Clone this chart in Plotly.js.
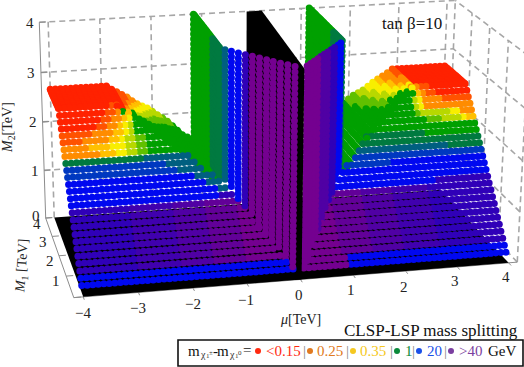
<!DOCTYPE html>
<html><head><meta charset="utf-8">
<script src="https://cdn.plot.ly/plotly-3.0.1.min.js"></script>
<style>html,body{margin:0;padding:0;background:#fff;overflow:hidden}</style></head>
<body><div id="chart" style="width:524px;height:367px"></div>
<script>
// ---------- data ----------
const palette = ['#ff2200','#ff5200','#ff8c00','#ffc000','#f8ee00','#b8d800','#60c000','#00a000','#007a40','#005f80','#0038c0','#0008f0','#3000b8','#5000a4','#740090','#4000ae','#620098'];
const absMu = [0.1,0.2,0.3,0.4,0.5,0.6,0.7,0.8,0.9,1.0,1.1,1.2,1.3,1.4,1.5,1.6,1.7,1.8,1.9,2.0,2.1,2.2,2.3,2.4,2.5,2.6,2.7,2.8,2.9,3.0,3.1,3.2,3.3,3.4,3.5,3.6,3.7,3.8,3.9,4.0];

// bino-wino rows: M1 close to M2
const rowM2 = [0.15,0.25,0.35,0.45,0.55,0.65,0.75,0.85,0.95,1.05,1.15,1.25,1.35,1.45,1.55,1.65,1.75,1.85,1.95,2.05,2.15,2.25,2.35,2.45,2.55,2.65];
const rowM1 = [0.16,0.26,0.36,0.47,0.57,0.68,0.78,0.88,0.99,1.09,1.2,1.3,1.4,1.51,1.61,1.72,1.82,1.92,2.03,2.13,2.24,2.34,2.44,2.55,2.65,2.76];
const rowInner = [0.1,0.2,0.3,0.4,0.4,0.5,0.6,0.7,0.7,0.8,0.9,1.0,1.1,1.2,1.3,1.5,1.6,1.7,1.8,2.0,2.1,2.3,2.5,2.6,2.8,2.9];
const lowL = [[12,3.0],[15,2.2],[13,1.6],[16,1.0],[14,0]];
const lowR = [[12,2.8],[15,2.1],[13,1.5],[16,0.9],[14,0]];
const rowRunsL = [[[11,0]],[[11,0]],lowL,lowL,lowL,lowL,lowL,lowL,lowL,lowL,lowL,
 [[11,1.3],[12,0]],[[11,1.3],[9,0]],[[11,1.5],[9,0]],[[11,1.7],[9,0]],[[10,2],[9,0]],[[10,2.2],[9,0]],[[8,2.6],[9,0]],
 [[2,3.4],[3,3.1],[4,2.9],[5,2.7],[6,2.5],[7,0]],[[2,3.6],[3,3.2],[4,2.9],[5,2.7],[6,2.45],[7,0]],
 [[1,3.7],[2,3.2],[3,3],[4,2.85],[5,2.65],[6,2.5],[7,0]],[[1,3.5],[2,3.1],[3,2.9],[4,2.8],[5,2.65],[7,0]],
 [[0,3.4],[1,3.2],[2,3],[3,2.85],[4,2.75],[5,2.65],[7,0]],[[0,3.3],[1,3.1],[2,2.9],[3,2.8],[4,2.7],[7,0]],
 [[0,3.2],[1,3],[2,2.9],[7,0]],[[0,3.1],[1,2.9],[2,0]]];
const rowRunsR = [[[11,1],[14,0]],[[11,1],[14,0]],lowR,lowR,lowR,lowR,lowR,lowR,lowR,lowR,lowR,
 [[12,3],[11,0]],[[11,0]],[[11,0]],[[11,2.2],[10,0]],[[10,0]],[[8,3.4],[9,0]],[[8,0]],[[7,3],[8,0]],[[7,0]],
 [[3,3.9],[4,3.75],[5,3.4],[6,3.1],[7,0]],[[2,3.8],[4,3.6],[5,3],[6,2.9],[7,0]],[[2,3.05],[4,2.95],[5,2.85],[7,0]],
 [[1,3.5],[2,3.1],[4,3],[5,2.9],[7,0]],[[0,3.4],[1,3.2],[2,3.05],[3,2.95],[7,0]],[[0,3.3],[1,3.1],[2,0]]];

// wino-higgsino band: M2 fixed by |mu|, M1 from the rows back to 4
const bandMu = [1.2,1.3,1.4,1.5,1.6,1.7,1.8,1.9,2.0,2.1,2.2,2.3,2.4,2.5,2.6,2.7,2.8,2.9];
const bandM2 = [1.45,1.5,1.55,1.65,1.75,1.85,1.93,2.0,2.08,2.15,2.2,2.25,2.32,2.4,2.46,2.52,2.58,2.65];
const G=[[7,0]];
const bandRunsL = [G,G,G,G,G,[[6,3.6],[7,0]],[[6,3.4],[7,0]],[[5,3.7],[6,3.3],[7,0]],[[5,3.5],[6,3.1],[7,0]],[[4,3.8],[5,3.4],[6,2.9],[7,0]],[[4,3.6],[5,3.2],[6,2.8],[7,0]],[[3,3.8],[4,3.4],[5,3],[6,2.8],[7,0]],[[2,3.8],[3,3.5],[4,3.1],[5,2.8],[7,0]],[[2,3.5],[3,3.2],[4,2.9],[5,2.7],[7,0]],[[1,3.5],[2,3.2],[3,2.9],[7,0]],[[1,3],[2,2.8],[3,0]],[[0,0]],[[0,0]]];
const bandRunsR = [G,G,G,G,G,G,G,G,[[6,3.6],[7,0]],[[6,3.2],[7,0]],[[5,3.7],[6,3],[7,0]],[[5,3.4],[6,2.8],[7,0]],[[4,3.7],[5,3.1],[6,2.7],[7,0]],[[4,3.3],[5,2.9],[7,0]],[[3,3.6],[4,3],[5,2.8],[7,0]],[[2,3.6],[3,3.2],[4,2.9],[7,0]],[[2,3.2],[3,3],[4,2.8],[7,0]],[[1,3.5],[2,3],[4,0]]];
const backM1 = [1.6,1.7,1.8,1.9,2.0,2.1,2.2,2.3,2.4,2.5,2.6,2.7,2.8,2.9,3.0,3.1,3.2,3.3,3.4,3.5,3.6,3.7,3.8,3.9,4.0];

// wino plateau
const capM2 = 2.65;
const capMu = [3.0,3.1,3.2,3.3,3.4,3.5,3.6,3.7,3.8,3.9,4.0];
const capCode = [0,0,0,0,0,0,0,0,0,0,0];

// higgsino wall at fixed |mu|, M2 up to 4
const wallMu = 1.16;
const wallM2 = [1.5,1.6,1.7,1.8,1.9,2.0,2.1,2.2,2.3,2.4,2.5,2.6,2.7,2.8,2.9,3.0,3.1,3.2,3.3,3.4,3.5,3.6,3.7,3.8,3.9,4.0];
const wallRuns = [[7,2.3],[8,0]];

// bino-higgsino columns
const colM1 = [0.15,0.28,0.41,0.54,0.67,0.8,0.93,1.06,1.19,1.32,1.45];
const colMu = [0.11,0.21,0.31,0.41,0.5,0.6,0.7,0.8,0.9,1.0,1.09];
const colCodeL = [14,14,14,14,14,14,14,12,11,11,9];
const colCodeR = [14,14,14,14,13,13,13,12,12,11,11];
const colM2 = [0.2,0.3,0.4,0.5,0.6,0.7,0.8,0.9,1.0,1.1,1.2,1.3,1.4,1.5,1.6,1.7,1.8,1.9,2.0,2.1,2.2,2.3,2.4,2.5,2.6,2.7,2.8,2.9,3.0,3.1,3.2,3.3,3.4,3.5,3.6,3.7,3.8,3.9,4.0];

const muTicks = [-4,-3,-2,-1,0,1,2,3,4];
const m1Ticks = [0,1,2,3,4];
const m2Ticks = [0,1,2,3,4];

// ---------- view of the box: reference marks fitted to a projective camera ----------
const anchors = [[-4,0,0,82,296],[4,0,0,507,264],[-4,4,0,55,216],[4,4,0,441,190],[-4,4,4,48,23],[4,4,4,447,0],[0,4,4,252,12],[0,0,4,305,68],[0,0,0,302,280],[-4,4,2,50,122],[4.17,4,4,455,0],[4.17,2,4,489,26]];
function fit(){
  const A=[],b=[];
  anchors.forEach(([X,Y,Z,u,v])=>{
    A.push([1,X,Y,Z,0,0,0,0,-u*X,-u*Y,-u*Z]);b.push(u);
    A.push([0,0,0,0,1,X,Y,Z,-v*X,-v*Y,-v*Z]);b.push(v);
  });
  const n=11,M=[];
  for(let i=0;i<n;i++){M.push(new Array(n+1).fill(0));
    for(let j=0;j<n;j++)for(let k=0;k<A.length;k++)M[i][j]+=A[k][i]*A[k][j];
    for(let k=0;k<A.length;k++)M[i][n]+=A[k][i]*b[k];}
  for(let i=0;i<n;i++){let p=i;for(let r=i+1;r<n;r++)if(Math.abs(M[r][i])>Math.abs(M[p][i]))p=r;
    [M[i],M[p]]=[M[p],M[i]];
    for(let r=0;r<n;r++)if(r!==i){const f=M[r][i]/M[i][i];for(let c=i;c<=n;c++)M[r][c]-=f*M[i][c];}}
  return M.map((row,i)=>row[n]/row[i]);
}
const P=fit();
function wOf(a,b,c){return 1+P[8]*a+P[9]*b+P[10]*c;}
function px(a,b,c){return (P[0]+P[1]*a+P[2]*b+P[3]*c)/wOf(a,b,c);}
function py(a,b,c){return (P[4]+P[5]*a+P[6]*b+P[7]*c)/wOf(a,b,c);}

function code(runs,v){for(const [c,lim] of runs){if(v>=lim-1e-9)return c;}return runs[runs.length-1][0];}

// ---------- assemble points ----------
function side(sign){
  const pts=[];
  const rr=sign<0?rowRunsL:rowRunsR, br=sign<0?bandRunsL:bandRunsR, cc=sign<0?colCodeL:colCodeR;
  rowM2.forEach((m2,i)=>absMu.forEach(m=>{if(m>=rowInner[i]-1e-9)pts.push([sign*m,rowM1[i],m2,code(rr[i],m)]);}));
  bandMu.forEach((m,i)=>backM1.forEach(a=>{if(a>bandM2[i]+0.05)pts.push([sign*m,a,bandM2[i],code(br[i],a)]);}));
  capMu.forEach((m,i)=>backM1.forEach(a=>{if(a>=2.8)pts.push([sign*m,a,capM2,capCode[i]]);}));
  backM1.forEach(a=>wallM2.forEach(z=>pts.push([sign*wallMu,a,z,code(wallRuns,a)])));
  colM1.forEach((a,i)=>colM2.forEach(z=>{if(z>=a)pts.push([sign*colMu[i],a,z,cc[i]]);}));
  pts.sort((p,q)=>wOf(q[0],q[1],q[2])-wOf(p[0],p[1],p[2]));
  return pts;
}
function markerTrace(pts,size){
  return {type:'scatter',mode:'markers',hoverinfo:'skip',
    x:pts.map(p=>px(p[0],p[1],p[2])),y:pts.map(p=>py(p[0],p[1],p[2])),
    marker:{size:size,color:pts.map(p=>palette[p[3]]),line:{width:0}}};
}
function lineTrace(segs,color,width,dash){
  const x=[],y=[];
  segs.forEach(s=>{x.push(px(...s[0]),px(...s[1]),null);y.push(py(...s[0]),py(...s[1]),null);});
  return {type:'scatter',mode:'lines',hoverinfo:'skip',x,y,line:{color,width,dash:dash||'solid'}};
}
function polyTrace(c){
  return {type:'scatter',mode:'lines',hoverinfo:'skip',fill:'toself',fillcolor:'#000',line:{width:0,color:'#000'},
    x:c.map(p=>px(...p)).concat(px(...c[0])),y:c.map(p=>py(...p)).concat(py(...c[0]))};
}

const E=4.17;
const dashed=[];
muTicks.forEach(m=>dashed.push([[m,4,0],[m,4,4]]));
m2Ticks.slice(1).forEach(z=>dashed.push([[-E,4,z],[E,4,z]]));
m1Ticks.forEach(a=>dashed.push([[E,a,0],[E,a,4]]));
m2Ticks.slice(1).forEach(z=>dashed.push([[E,0,z],[E,4,z]]));
dashed.push([[E,0,0],[E,4,0]]);

const solid=[[[-E,4,0],[-E,4,4]],[[-E,4,0],[-E,0,0]],[[-E,0,0],[E,0,0]]];
muTicks.forEach(m=>solid.push([[m,0,0],[m,-0.13,0]]));
m1Ticks.forEach(a=>solid.push([[-E,a,0],[-E+0.13,a,0]]));
m2Ticks.forEach(z=>solid.push([[-E,4,z],[-E+0.13,4,z]]));

const legendDots={x:[258,310,353,397,419,451],y:[351,351,351,351,351,351],color:['#ff2a10','#e07a20','#f5c820','#0a8a3a','#1a50e8','#7b3fa0']};

const traces=[
  lineTrace(dashed,'#a6a6a6',1.6,'6px,4px'),
  lineTrace(solid,'#8c8c8c',1),
  polyTrace([[-4,0,0],[4,0,0],[4,4,0],[-4,4,0]]),
  markerTrace(side(1),7),
  polyTrace([[-0.1,0,0],[-0.1,4,0],[-0.1,4,4],[0.2,4,4],[0.02,0,4],[0.02,0,0]]),
  markerTrace(side(-1),7),
  {type:'scatter',mode:'markers',hoverinfo:'skip',x:legendDots.x,y:legendDots.y,marker:{size:6,color:legendDots.color}}
];

// ---------- text ----------
const serif='Liberation Serif';
function T(x,y,text,size,color,anchor,angle){
  return {x,y,xref:'x',yref:'y',text,showarrow:false,xanchor:anchor||'center',yanchor:'middle',
    font:{family:serif,size:size||14,color:color||'#222'},textangle:angle||0};
}
const muLab=[[83,313],[138,308],[193,304],[246,300],[299,295],[351,290],[404,287],[455,281],[506,277]];
const ann=[];
muTicks.forEach((m,i)=>ann.push(T(muLab[i][0],muLab[i][1],String(m).replace('-','\u2212'),15)));
[[56,281,'1'],[50,261,'2'],[43,242,'3'],[37,224,'4']].forEach(a=>ann.push(T(a[0],a[1],a[2],15)));
[[36,216,'0'],[35,171,'1'],[33,122,'2'],[31,73,'3'],[30,23,'4']].forEach(a=>ann.push(T(a[0],a[1],a[2],15)));
ann.push(T(300,319,'<i>\u03bc</i>[TeV]',14));
ann.push(T(22,266,'<i>M</i><sub>1</sub> [TeV]',14,'#222','center',-86));
ann.push(T(8,128,'<i>M</i><sub>2</sub>[TeV]',14,'#222','center',-90));
ann.push(T(412,23,'tan \u03b2=10',17,'#111'));
ann.push(T(520,330,'CLSP-LSP mass splitting',17,'#111','right'));
ann.push(T(186,351,'m',15,'#111','left'));
ann.push(T(198,354,'\u03c7',10,'#333','left'));
ann.push(T(204,356,'1',7,'#333','left'));
ann.push(T(207,353,'\u00b1',7,'#333','left'));
ann.push(T(211,351,'-',15,'#111','left'));
ann.push(T(215,351,'m',15,'#111','left'));
ann.push(T(227,354,'\u03c7',10,'#333','left'));
ann.push(T(233,356,'1',7,'#333','left'));
ann.push(T(236,353,'0',7,'#333','left'));
ann.push(T(241,350,'=',15,'#111','left'));
ann.push(T(264,351,'&lt;0.15',15,'#ff2a10','left'));
ann.push(T(304,351,'|',15,'#888'));
ann.push(T(315,351,'0.25',15,'#e07a20','left'));
ann.push(T(347,351,'|',15,'#888'));
ann.push(T(358,351,'0.35',15,'#f5c820','left'));
ann.push(T(391,351,'|',15,'#888'));
ann.push(T(403,351,'1',15,'#0a8a3a','left'));
ann.push(T(413,351,'|',15,'#888'));
ann.push(T(425,351,'20',15,'#1a50e8','left'));
ann.push(T(445,351,'|',15,'#888'));
ann.push(T(457,351,'&gt;40',15,'#7b3fa0','left'));
ann.push(T(486,351,'GeV',15,'#111','left'));

Plotly.newPlot('chart',traces,{
  width:524,height:367,margin:{l:0,r:0,t:0,b:0},showlegend:false,
  paper_bgcolor:'#fff',plot_bgcolor:'#fff',
  xaxis:{range:[0,524],visible:false,fixedrange:true},
  yaxis:{range:[367,0],visible:false,fixedrange:true},
  annotations:ann,
  shapes:[{type:'rect',xref:'x',yref:'y',x0:178,y0:340,x1:523,y1:366,line:{color:'#111',width:1.6},fillcolor:'rgba(0,0,0,0)'}]
},{staticPlot:true,displayModeBar:false});
</script></body></html>
